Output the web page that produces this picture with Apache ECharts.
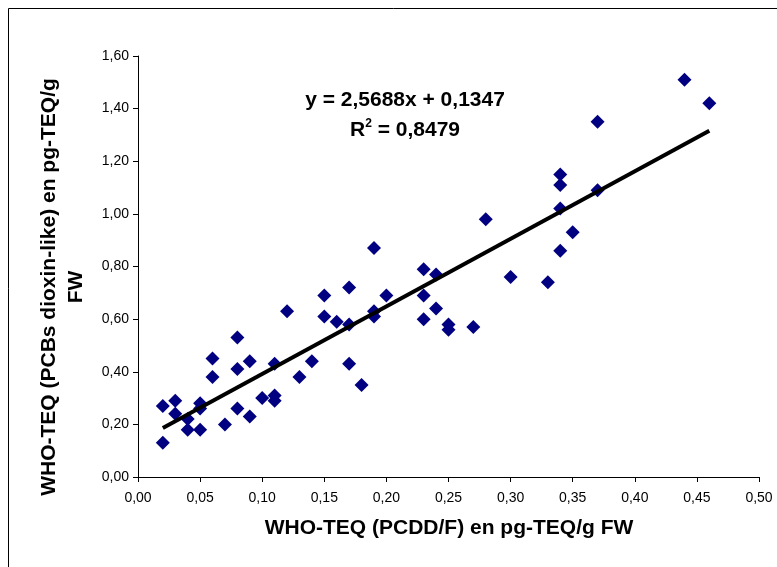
<!DOCTYPE html>
<html>
<head>
<meta charset="utf-8">
<script src="https://cdn.jsdelivr.net/npm/echarts@6/dist/echarts.min.js"></script>
<style>
  html, body { margin: 0; padding: 0; background: #fff; }
  #chart { width: 777px; height: 567px; }
</style>
</head>
<body>
<div id="chart"></div>
<script>
// valeurs
const pcddValues = [
  0.02, 0.02, 0.03, 0.03, 0.04, 0.04, 0.05, 0.05, 0.05, 0.06,
  0.06, 0.07, 0.08, 0.08, 0.08, 0.09, 0.09, 0.10, 0.11, 0.11,
  0.11, 0.12, 0.13, 0.14, 0.15, 0.15, 0.16, 0.17, 0.17, 0.17,
  0.18, 0.19, 0.19, 0.19, 0.20, 0.23, 0.23, 0.23, 0.24, 0.24,
  0.25, 0.25, 0.27, 0.28, 0.30, 0.33, 0.34, 0.34, 0.34, 0.34,
  0.35, 0.37, 0.37, 0.44, 0.46
];
const pcbValues = [
  0.13, 0.27, 0.29, 0.24, 0.22, 0.18, 0.28, 0.26, 0.18, 0.45,
  0.38, 0.20, 0.53, 0.41, 0.26, 0.44, 0.23, 0.30, 0.43, 0.31,
  0.29, 0.63, 0.38, 0.44, 0.69, 0.61, 0.59, 0.72, 0.58, 0.43,
  0.35, 0.87, 0.63, 0.61, 0.69, 0.79, 0.69, 0.60, 0.77, 0.64,
  0.58, 0.56, 0.57, 0.98, 0.76, 0.74, 1.15, 1.11, 1.02, 0.86,
  0.93, 1.35, 1.09, 1.51, 1.42
];

// droite de tendance (coefficients affichés sur le graphique)
const slope = 2.5688;
const intercept = 0.1347;
const trendX = [0.02, 0.46];

const fmt = v => v.toFixed(2).replace('.', ',');

const points = pcddValues.map((x, i) => [x, pcbValues[i]]);
const trendPoints = trendX.map(x => [x, slope * x + intercept]);

const chart = echarts.init(document.getElementById('chart'));
const font = 'Liberation Sans, Arial, sans-serif';

chart.setOption({
  backgroundColor: '#fff',
  animation: false,
  grid: { left: 138, right: 18, top: 56, bottom: 90 },
  xAxis: {
    type: 'value',
    min: 0, max: 0.5, interval: 0.05,
    axisLine: { lineStyle: { color: '#000', width: 1 } },
    axisTick: { show: true, length: 5, lineStyle: { color: '#000' } },
    axisLabel: { color: '#000', fontSize: 14, fontFamily: font, margin: 14, formatter: fmt },
    splitLine: { show: false }
  },
  yAxis: {
    type: 'value',
    min: 0, max: 1.6, interval: 0.2,
    axisLine: { show: true, lineStyle: { color: '#000', width: 1 } },
    axisTick: { show: true, length: 5, lineStyle: { color: '#000' } },
    axisLabel: { color: '#000', fontSize: 14, fontFamily: font, margin: 9, formatter: fmt },
    splitLine: { show: false }
  },
  graphic: [
    {
      type: 'rect', silent: true,
      shape: { x: 8.5, y: 8.5, width: 900, height: 700 },
      style: { fill: 'none', stroke: '#000', lineWidth: 1 }
    },
    {
      type: 'text', x: 449, y: 528,
      style: {
        text: 'WHO-TEQ (PCDD/F) en pg-TEQ/g FW',
        font: 'bold 21px ' + font, fill: '#000',
        textAlign: 'center', textVerticalAlign: 'middle'
      }
    },
    {
      type: 'text', x: 63, y: 287, rotation: Math.PI / 2,
      style: {
        text: 'WHO-TEQ (PCBs dioxin-like) en pg-TEQ/g\nFW',
        font: 'bold 21px ' + font, fill: '#000', lineHeight: 27,
        textAlign: 'center', textVerticalAlign: 'middle'
      }
    },
    {
      type: 'text', x: 405, y: 100,
      style: {
        text: 'y = 2,5688x + 0,1347',
        font: 'bold 21px ' + font, fill: '#000',
        textAlign: 'center', textVerticalAlign: 'middle'
      }
    },
    {
      type: 'text', x: 405, y: 130,
      style: {
        text: '{a|R}{s|2}{a| = 0,8479}',
        textAlign: 'center', textVerticalAlign: 'middle',
        rich: {
          a: { fontSize: 21, fontWeight: 'bold', fontFamily: font, color: '#000', lineHeight: 24 },
          s: { fontSize: 12, fontWeight: 'bold', fontFamily: font, color: '#000', verticalAlign: 'top', padding: [0, 0, 10, 0] }
        }
      }
    }
  ],
  series: [
    {
      type: 'scatter',
      data: points,
      symbol: 'diamond',
      symbolSize: 14,
      itemStyle: { color: '#000080', opacity: 1 },
      z: 2
    },
    {
      type: 'line',
      data: trendPoints,
      symbol: 'none',
      lineStyle: { color: '#000', width: 4 },
      z: 3
    }
  ]
});
</script>
</body>
</html>
